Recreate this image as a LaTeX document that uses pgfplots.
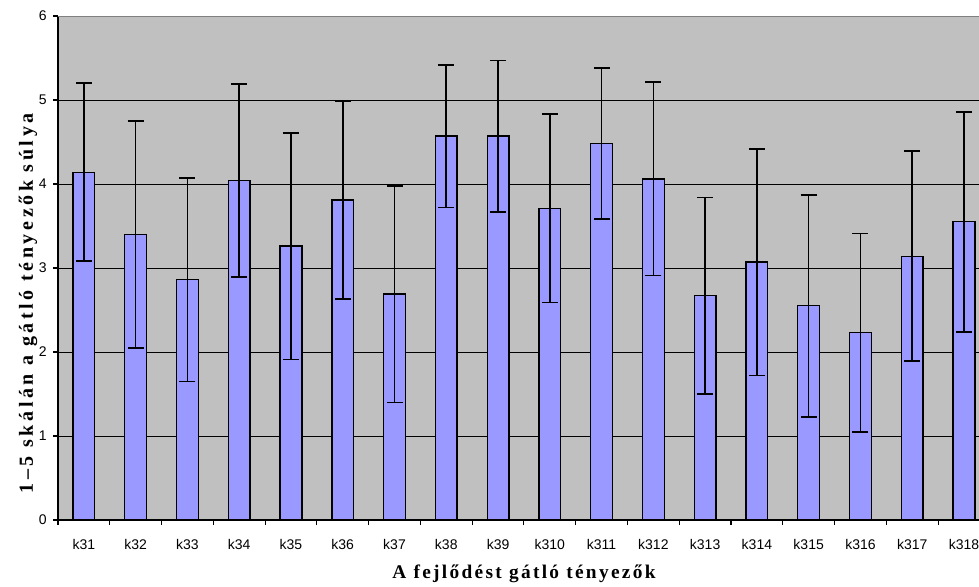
\documentclass[border=0pt]{standalone}
\usepackage{pgfplots}
\pgfplotsset{compat=1.18}
\usepackage{pgfplotstable}
\usepackage{fontspec}
\setmainfont{Liberation Serif}
\setsansfont{Liberation Sans}
\newfontfamily\xlfont[LetterSpace=12]{Liberation Serif}
\newfontfamily\ylfont[LetterSpace=18]{Liberation Serif}
\definecolor{barfill}{HTML}{9999FF}
\definecolor{plotbg}{HTML}{C0C0C0}
\definecolor{topline}{HTML}{808080}

\pgfplotstableread{
x y e
1 4.14 1.06
2 3.40 1.35
3 2.86 1.21
4 4.04 1.15
5 3.26 1.35
6 3.81 1.18
7 2.69 1.29
8 4.57 0.85
9 4.57 0.90
10 3.71 1.12
11 4.48 0.90
12 4.06 1.15
13 2.67 1.17
14 3.07 1.35
15 2.55 1.32
16 2.23 1.18
17 3.14 1.25
18 3.55 1.31
}\datatable

\begin{document}
\begin{tikzpicture}
\begin{axis}[
  at={(0,0)}, anchor=south west,
  scale only axis,
  width=690.75pt, height=378pt,
  xmin=0.5, xmax=18.29,
  ymin=0, ymax=6,
  axis x line*=bottom, axis y line*=left,
  axis line style={black, line width=0.8pt},
  axis background/.style={fill=plotbg},
  ytick={0,1,2,3,4,5,6},
  ymajorgrids,
  grid style={black, line width=0.6pt},
  xtick={1,...,18},
  xticklabels={k31,k32,k33,k34,k35,k36,k37,k38,k39,k310,k311,k312,k313,k314,k315,k316,k317,k318},
  x tick style={draw=none},
  extra x ticks={0.5,1.5,...,17.5},
  extra x tick labels={},
  extra x tick style={x tick style={draw=black, line width=0.8pt}, major tick length=3.5pt, tick align=outside},
  y tick style={black, line width=0.8pt},
  major tick length=3.5pt,
  tick align=outside,
  tick pos=left,
  /pgf/number format/assume math mode=true,
  ticklabel style={font=\sffamily\fontsize{10.5}{12}\selectfont, text=black},
  xticklabel style={yshift=-7.5pt},
  yticklabel style={xshift=-1.5pt},
  xlabel={\xlfont\bfseries\fontsize{14.5}{16}\selectfont A fejlődést gátló tényezők},
  xlabel style={at={(rel axis cs:0.506,0)}, anchor=base, yshift=-43.5pt},
  clip=true,
]
\addplot[ybar, bar width=0.42, fill=barfill, draw=black, line width=1pt,
  error bars/.cd, y dir=both, y explicit,
  error bar style={black, line width=1.2pt},
  error mark options={rotate=90, black, line width=1.3pt, mark size=6pt}]
  table[x=x, y=y, y error=e] {\datatable};
\draw[topline, line width=1.2pt] (rel axis cs:0,1) -- (rel axis cs:1,1);
\end{axis}
\node[rotate=90, anchor=center, inner sep=0pt] at (-22.5pt, 162.5pt)
  {\ylfont\bfseries\fontsize{15}{17}\selectfont 1–5 skálán a gátló tényezők súlya};
\pgfresetboundingbox
\path[use as bounding box] (-43.5pt,-49.5pt) rectangle (690.75pt,390pt);
\end{tikzpicture}
\end{document}
